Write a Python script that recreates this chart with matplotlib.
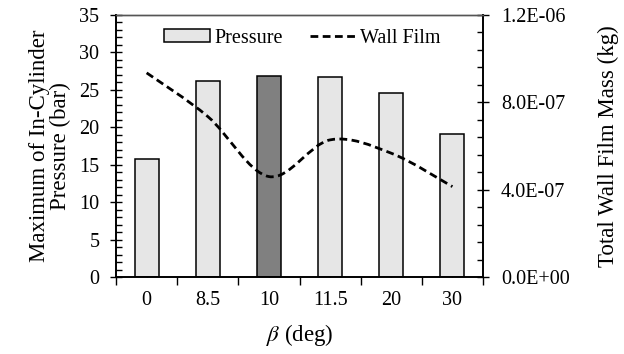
import matplotlib
matplotlib.use("Agg")
import matplotlib.pyplot as plt
from matplotlib.path import Path
from matplotlib.patches import PathPatch, Patch
from matplotlib.lines import Line2D
from matplotlib.ticker import MultipleLocator, FuncFormatter
import numpy as np

plt.rcParams['font.family'] = ['Liberation Serif', 'DejaVu Serif']
plt.rcParams['mathtext.fontset'] = 'stix'

# ── Data ────────────────────────────────────────────────────────────────
beta_labels = ["0", "8.5", "10", "11.5", "20", "30"]
pressure = [15.7, 26.2, 26.85, 26.7, 24.6, 19.1]          # bar
wall_film = [9.35e-7, 7.35e-7, 4.6e-7, 6.28e-7, 5.67e-7, 4.14e-7]  # kg
highlight = "10"

C_LIGHT = "#E6E6E6"
C_DARK = "#808080"
FS = 14.5       # tick labels / legend
FL = 16.5       # axis labels

fig = plt.figure(figsize=(6.24, 3.54), dpi=100)
ax = fig.add_axes([0.186, 0.2175, 0.588, 0.7401])
ax2 = ax.twinx()

x = np.arange(len(beta_labels))
colors = [C_DARK if b == highlight else C_LIGHT for b in beta_labels]
ax.bar(x, pressure, width=0.39, color=colors, edgecolor="black", linewidth=1.1, zorder=2)

# smoothed wall film curve (Catmull-Rom -> cubic Bezier, like Excel smoothing)
pts = np.column_stack([x, wall_film])
verts = [pts[0]]
codes = [Path.MOVETO]
for i in range(len(pts) - 1):
    p0 = pts[max(i - 1, 0)]
    p1 = pts[i]
    p2 = pts[i + 1]
    p3 = pts[min(i + 2, len(pts) - 1)]
    c1 = p1 + (p2 - p0) / 6.0
    c2 = p2 - (p3 - p1) / 6.0
    verts += [c1, c2, p2]
    codes += [Path.CURVE4] * 3
curve = PathPatch(Path(verts, codes), facecolor="none", edgecolor="black",
                  linewidth=2.0, linestyle=(0, (2.8, 1.6)), zorder=3)
ax2.add_patch(curve)

# ── Axes ────────────────────────────────────────────────────────────────
ax.set_xlim(-0.5, len(x) - 0.5)
ax.set_ylim(0, 35)
ax2.set_ylim(0, 1.2e-6)

ax.set_xticks(np.arange(-0.5, len(x)), labels=[""] * (len(x) + 1))
ax.set_xticks(x, labels=beta_labels, minor=True)
ax.tick_params(axis="x", which="major", direction="out", length=6, width=1)
ax.tick_params(axis="x", which="minor", direction="in", length=4, width=1,
               labelsize=FS, pad=10)

ax.yaxis.set_major_locator(MultipleLocator(5))
ax.yaxis.set_minor_locator(MultipleLocator(1))
ax.tick_params(axis="y", which="major", direction="inout", length=8, width=1,
               labelsize=FS, pad=8)
ax.tick_params(axis="y", which="minor", direction="in", length=4, width=1)

ax2.yaxis.set_major_locator(MultipleLocator(4e-7))
ax2.yaxis.set_minor_locator(MultipleLocator(0.8e-7))
ax2.yaxis.set_major_formatter(FuncFormatter(lambda v, p: f"{v:.1E}"))
ax2.tick_params(axis="y", which="major", direction="inout", length=8, width=1,
                labelsize=FS, pad=9)
ax2.tick_params(axis="y", which="minor", direction="in", length=4, width=1)

for a in (ax, ax2):
    a.spines["top"].set_color("#555555")
    a.spines["top"].set_linewidth(1.0)
    for s in ("left", "right", "bottom"):
        a.spines[s].set_linewidth(1.2)

ax.set_ylabel("Maximum of In-Cylinder\nPressure (bar)", fontsize=FL, labelpad=6,
              linespacing=1.0)
ax2.set_ylabel("Total Wall Film Mass (kg)", fontsize=FL, labelpad=20)
ax.set_xlabel(r"$\beta$ (deg)", fontsize=FL, labelpad=9)

handles = [Patch(facecolor=C_LIGHT, edgecolor="black", linewidth=1.1),
           Line2D([], [], color="black", linewidth=2.0, linestyle=(0, (2.8, 1.6)))]
ax.legend(handles, ["Pressure", "Wall Film"], loc="center", ncol=2,
          bbox_to_anchor=(0.508, 0.912), frameon=False, fontsize=FS,
          handlelength=2.3, handletextpad=0.2, columnspacing=1.35, handleheight=0.55)

fig.savefig("out.png", dpi=100)
